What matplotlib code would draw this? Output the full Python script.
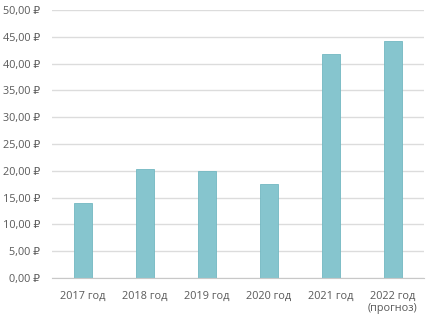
import matplotlib
matplotlib.use("Agg")
import matplotlib.pyplot as plt
from matplotlib.ticker import FuncFormatter

plt.rcParams['font.family'] = ['Open Sans', 'DejaVu Sans']

categories = ["2017 год", "2018 год", "2019 год", "2020 год", "2021 год", "2022 год\n(прогноз)"]
values = [14.0, 20.3, 19.9, 17.5, 41.8, 44.2]
y_ticks = [0, 5, 10, 15, 20, 25, 30, 35, 40, 45, 50]

fig = plt.figure(figsize=(4.31, 3.2), dpi=100)
ax = fig.add_axes([0.1206, 0.131, 0.863, 0.838])

x = list(range(len(categories)))
ax.bar(x, values, width=0.3, color="#86C5CE", edgecolor="#72B8C2", linewidth=0.6, zorder=3)

ax.set_ylim(0, 50)
ax.set_xlim(-0.5, len(categories) - 0.5)
ax.set_yticks(y_ticks)
ax.yaxis.set_major_formatter(FuncFormatter(lambda v, p: f"{v:.2f}".replace(".", ",") + " ₽"))
ax.set_xticks(x)
ax.set_xticklabels(categories)
ax.grid(axis="y", color="#DCDCDC", linewidth=1.0, zorder=0)
for s in ["top", "right", "left"]:
    ax.spines[s].set_visible(False)
ax.spines["bottom"].set_color("#C8C8C8")
ax.spines["bottom"].set_zorder(4)
ax.tick_params(axis="both", length=0, colors="#595959", labelsize=7.8)
ax.tick_params(axis="y", pad=8.5)
ax.tick_params(axis="x", pad=9)

fig.savefig("out.png", dpi=100)
